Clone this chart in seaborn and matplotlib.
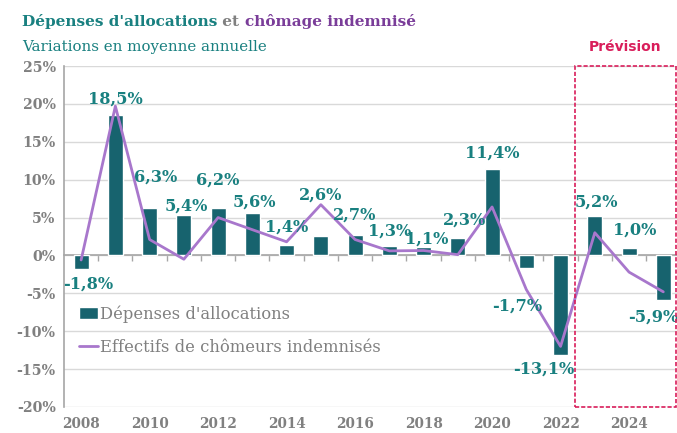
import matplotlib
matplotlib.use("Agg")
import matplotlib.pyplot as plt
from matplotlib.patches import Rectangle
import numpy as np
import pandas as pd
import seaborn as sns

years = ["2008", "2009", "2010", "2011", "2012", "2013", "2014", "2015", "2016",
         "2017", "2018", "2019", "2020", "2021", "2022", "2023", "2024", "2025"]
depenses = [-1.8, 18.5, 6.3, 5.4, 6.2, 5.6, 1.4, 2.6, 2.7, 1.3, 1.1, 2.3, 11.4,
            -1.7, -13.1, 5.2, 1.0, -5.9]
effectifs = [-0.6, 19.7, 2.1, -0.5, 5.0, 3.4, 1.8, 6.7, 2.1, 0.6, 0.65, 0.1, 6.4,
             -4.5, -12.0, 3.0, -2.2, -4.8]
labels = ["-1,8%", "18,5%", "6,3%", "5,4%", "6,2%", "5,6%", "1,4%", "2,6%", "2,7%",
          "1,3%", "1,1%", "2,3%", "11,4%", "-1,7%", "-13,1%", "5,2%", "1,0%", "-5,9%"]
yticks = [-20, -15, -10, -5, 0, 5, 10, 15, 20, 25]
xtick_labels = ["2008", "2010", "2012", "2014", "2016", "2018", "2020", "2022", "2024"]

# label placement offsets (category units, percentage points)
label_dx = [0.2, 0.0, 0.18, 0.06, 0.0, 0.06, 0.0, 0.0, 0.0, 0.0, 0.1, 0.2, 0.0,
            -0.26, -0.5, 0.06, 0.15, -0.3]
label_dy = [-2.0, 2.1, 4.0, 1.1, 3.7, 1.5, 2.4, 5.4, 2.6, 1.9, 1.0, 2.4, 2.1,
            -5.0, -1.9, 1.8, 2.3, -2.3]

TEAL = "#17636e"
TEAL_TXT = "#198080"
PURPLE = "#a877cc"
PURPLE_T = "#7a3d99"
GRAY = "#808080"
CRIMSON = "#d91e5b"

sns.set_theme(style="white")
plt.rcParams["font.family"] = ["DejaVu Serif"]

df = pd.DataFrame({"annee": years, "dep": depenses, "eff": effectifs})

fig = plt.figure(figsize=(6.77, 4.33), dpi=100)
ax = fig.add_axes([64 / 677, 26 / 433, 1 - 64 / 677, (407 - 66) / 433])

sns.barplot(data=df, x="annee", y="dep", color=TEAL, width=0.44, saturation=1,
            ax=ax, label="Dépenses d'allocations", zorder=3)
sns.lineplot(x=np.arange(len(years)), y=effectifs, color=PURPLE, linewidth=2,
             ax=ax, label="Effectifs de chômeurs indemnisés", zorder=4)

ax.set_xlim(-0.5, 17.4)
ax.set_ylim(-20, 25)
ax.set_yticks(yticks)
ax.set_yticklabels([f"{v}%" for v in yticks])
ax.set_xlabel("")
ax.set_ylabel("")

# horizontal grid
ax.grid(axis="y", color="#d9d9d9", linewidth=1, zorder=0)
ax.grid(axis="x", visible=False)

# spines
for s in ["top", "right"]:
    ax.spines[s].set_visible(False)
ax.spines["left"].set_color("#a6a6a6")
ax.spines["left"].set_linewidth(1.2)
ax.spines["bottom"].set_position(("data", 0))
ax.spines["bottom"].set_color("#a6a6a6")
ax.spines["bottom"].set_linewidth(1.2)
ax.spines["bottom"].set_zorder(2)

# x ticks: labels every 2 years at the bottom, small marks between categories
ax.set_xticks(np.arange(0, len(years), 2))
ax.set_xticklabels(xtick_labels)
ax.set_xticks(np.arange(0.5, len(years) - 0.5, 1), minor=True)
ax.tick_params(axis="x", which="major", length=0, pad=116, labelsize=9.8,
               labelcolor=GRAY)
ax.tick_params(axis="x", which="minor", length=4, width=1, color="#a6a6a6",
               direction="out", bottom=True)
ax.tick_params(axis="y", length=0, pad=6, labelsize=10.2, labelcolor=GRAY)
for t in ax.get_xticklabels() + ax.get_yticklabels():
    t.set_fontweight("bold")

# data labels
for i, (v, lab) in enumerate(zip(depenses, labels)):
    ax.text(i + label_dx[i], v + label_dy[i], lab, ha="center", va="center",
            fontsize=11.6, fontweight="bold", color=TEAL_TXT, zorder=5,
            clip_on=False)

# forecast box
rect = Rectangle((14.42, -20), 17.37 - 14.42, 45, fill=False, edgecolor=CRIMSON,
                 linestyle=(0, (2.5, 1.2)), linewidth=1.2, clip_on=False, zorder=6)
ax.add_patch(rect)
ax.text(15.88, 27.5, "Prévision", ha="center", va="center", fontsize=10,
        fontweight="bold", color=CRIMSON, family="DejaVu Sans", clip_on=False)

# legend (bars first)
handles, labs = ax.get_legend_handles_labels()
order = [labs.index("Dépenses d'allocations"),
         labs.index("Effectifs de chômeurs indemnisés")]
leg = ax.legend([handles[k] for k in order], [labs[k] for k in order],
                loc="upper left", bbox_to_anchor=(0.014, 0.318), frameon=False,
                fontsize=11.8, handlelength=1.15, handleheight=0.75,
                handletextpad=0.12, labelspacing=1.0, borderaxespad=0)
for t in leg.get_texts():
    t.set_color(GRAY)

# title in three colours
t1 = fig.text(22 / 677, 1 - 26 / 433, "Dépenses d'allocations", fontsize=11,
              fontweight="bold", color=TEAL_TXT, va="baseline", ha="left")
t2 = fig.text(0, 0, " et ", fontsize=11, fontweight="bold", color=GRAY,
              va="baseline", ha="left")
t3 = fig.text(0, 0, "chômage indemnisé", fontsize=11, fontweight="bold",
              color=PURPLE_T, va="baseline", ha="left")
fig.canvas.draw()
r = fig.canvas.get_renderer()
bb = t1.get_window_extent(r)
t2.set_position((bb.x1 / fig.bbox.width, 1 - 26 / 433))
bb2 = t2.get_window_extent(r)
t3.set_position((bb2.x1 / fig.bbox.width, 1 - 26 / 433))
fig.text(22 / 677, 1 - 51 / 433, "Variations en moyenne annuelle", fontsize=10.8,
         color=TEAL_TXT, va="baseline", ha="left")

fig.savefig("out.png", dpi=100)
